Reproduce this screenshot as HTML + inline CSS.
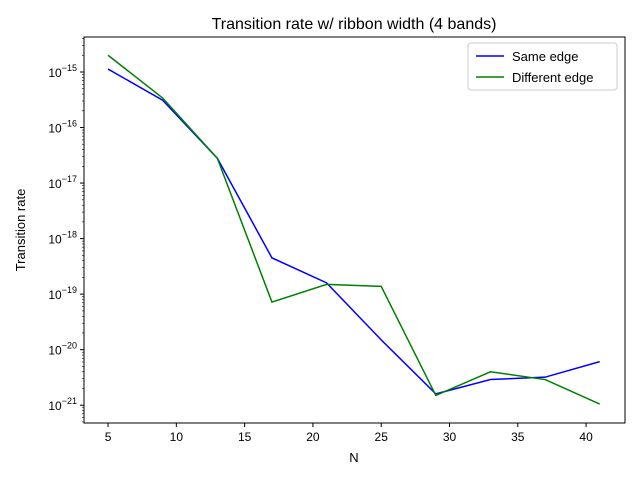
<!DOCTYPE html>
<html><head><meta charset="utf-8"><style>
body{margin:0;background:#fff;}
svg{font-family:"Liberation Sans","DejaVu Sans",sans-serif;}
</style></head><body>
<svg id="chart" width="640" height="480">
<rect width="640" height="480" fill="#fff"/>
<text x="354" y="29" font-size="16" text-anchor="middle">Transition rate w/ ribbon width (4 bands)</text>
<g id="ticks"></g>
<g id="lines"></g>
<rect x="84" y="37" width="541" height="386" fill="none" stroke="#000" stroke-width="1"/>
<text x="354" y="462" font-size="13" text-anchor="middle">N</text>
<text x="25" y="230" font-size="13" text-anchor="middle" transform="rotate(-90 25 230)">Transition rate</text>
<g>
<rect x="468" y="43" width="149" height="47" fill="#fff" stroke="#ccc" rx="3"/>
<line x1="476" y1="56" x2="504" y2="56" stroke="#0000ff" stroke-width="1.5"/>
<text x="512" y="61" font-size="13">Same edge</text>
<line x1="476" y1="77" x2="504" y2="77" stroke="#008000" stroke-width="1.5"/>
<text x="512" y="82" font-size="13">Different edge</text>
</g>
</svg>
<script>
const categories=[5,9,13,17,21,25,29,33,37,41];
const sameEdge=[1.13e-15,3.1e-16,2.8e-17,4.5e-19,1.6e-19,1.5e-20,1.6e-21,2.9e-21,3.2e-21,6.1e-21];
const diffEdge=[2.0e-15,3.4e-16,2.8e-17,7.2e-20,1.5e-19,1.38e-19,1.5e-21,4.0e-21,2.9e-21,1.05e-21];
const xTicks=[5,10,15,20,25,30,35,40];
const yTickExps=[-15,-16,-17,-18,-19,-20,-21];
const NS="http://www.w3.org/2000/svg";
const L=84,R=625,T=37,B=423,xmin=3.24,xmax=42.85,ymax=-14.37,ymin=-21.32;
function xs(v){return L+(v-xmin)/(xmax-xmin)*(R-L);}
function ys(v){return T+(ymax-Math.log10(v))/(ymax-ymin)*(B-T);}
function mk(tag,attrs,parent){const e=document.createElementNS(NS,tag);for(const k in attrs)e.setAttribute(k,attrs[k]);parent.appendChild(e);return e;}
const tg=document.getElementById('ticks');
xTicks.forEach(v=>{const x=xs(v);
 const l=mk('line',{x1:x,x2:x,y1:B,y2:B+4,stroke:'#000'},tg);
 
 
 const t=mk('text',{x:x,y:B+18,'font-size':12,'text-anchor':'middle'},tg);t.textContent=v;
 
 
});
yTickExps.forEach(e=>{const y=ys(Math.pow(10,e));
 const l=mk('line',{x1:L-4,x2:L,y1:y,y2:y,stroke:'#000'},tg);
 
 
 const t=mk('text',{x:L-7,y:y+5,'font-size':12,'text-anchor':'end'},tg);
 
 
 t.textContent='10';const s=mk('tspan',{dy:-6,'font-size':9},t);s.textContent=String(e).replace('-','\u2212');
});
for(let e=-22;e<=-14;e++){for(let m=2;m<=9;m++){const v=m*Math.pow(10,e);const y=ys(v);if(y<T||y>B)continue;
 const l=mk('line',{x1:L-2,x2:L,y1:y,y2:y,stroke:'#000','stroke-width':0.6},tg);
 
 }}
const lg=document.getElementById('lines');
function series(vals,color,name){const p=mk('polyline',{points:vals.map((v,i)=>xs(categories[i])+','+ys(v)).join(' '),fill:'none',stroke:color,'stroke-width':1.5},lg);
 
 }
series(sameEdge,'#0000ff','line-same-edge');
series(diffEdge,'#008000','line-different-edge');
</script>
</body></html>
